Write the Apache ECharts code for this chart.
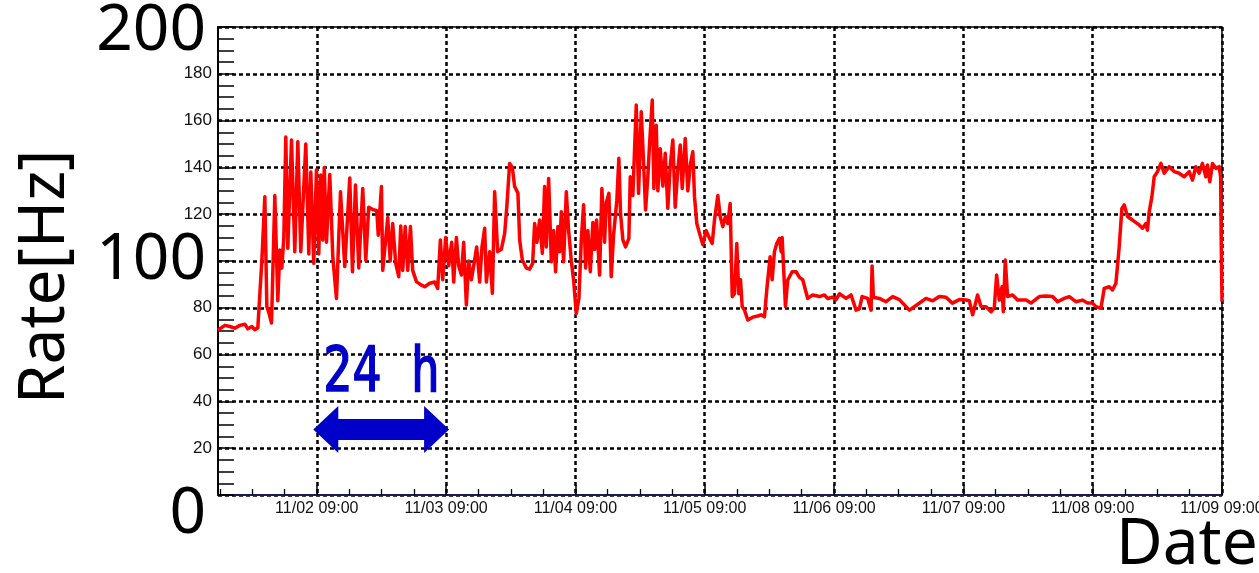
<!DOCTYPE html>
<html><head><meta charset="utf-8">
<script src="https://cdn.jsdelivr.net/npm/echarts@6/dist/echarts.min.js"></script>
<style>html,body{margin:0;padding:0;background:#fff}#c{width:1259px;height:573px}</style>
</head><body><div id="c"></div>
<script>
// Time of each sample, in hours since 11/01 00:00
const hours = [
14.67,15.01,15.94,16.87,17.79,18.72,19.65,20.20,20.95,21.50,22.06,22.43,22.80,23.36,23.73,24.10,24.60,25.21,25.77,26.14,
26.51,26.88,27.25,27.62,28.31,28.92,29.48,30.03,30.96,31.52,31.89,32.44,32.94,33.37,33.74,34.11,34.39,34.80,35.41,35.97,
36.65,37.40,38.19,39.12,39.62,40.18,40.79,41.53,42.09,42.64,43.39,44.13,44.41,45.00,45.24,46.17,46.63,47.09,47.65,48.21,
48.58,48.95,49.41,49.88,50.38,50.80,51.49,52.42,53.03,53.96,54.88,55.44,55.94,56.37,56.92,57.48,58.04,58.41,58.91,59.34,
59.84,60.26,60.76,61.19,61.69,62.12,62.67,63.23,63.66,64.16,64.47,65.08,65.59,66.01,66.57,67.25,67.87,68.29,68.79,69.29,
69.72,70.33,70.65,71.15,71.89,72.50,73.06,73.43,73.86,74.36,74.86,75.28,75.60,76.03,76.53,76.95,77.32,77.75,78.07,78.38,
78.81,79.31,79.74,80.24,80.66,81.16,81.65,82.09,82.52,82.89,83.31,83.76,84.24,84.56,84.93,85.49,85.91,86.41,86.73,87.21,
87.65,88.08,88.69,89.06,89.38,89.81,90.31,90.92,91.18,91.66,92.29,92.72,93.22,93.65,94.02,94.44,94.76,95.26,95.56,96.00,
96.30,96.74,97.23,97.67,98.15,98.60,99.08,99.52,100.01,100.45,100.82,101.38,101.86,102.31,102.79,103.10,103.53,104.03,104.64,105.27,
105.83,106.39,106.81,107.43,107.87,108.35,108.85,109.28,109.72,110.10,110.52,110.95,111.32,111.64,111.95,112.38,112.99,113.92,114.84,115.47,
116.09,116.51,117.14,117.51,117.94,118.37,118.87,119.18,119.37,119.98,120.41,121.22,121.96,122.58,123.19,123.69,124.12,125.04,126.29,127.21,
127.83,128.70,129.38,130.00,131.24,132.16,133.09,133.70,134.20,135.24,135.87,136.06,136.30,137.41,138.65,139.88,141.12,142.37,142.98,144.22,
146.07,147.30,148.54,149.78,150.95,152.25,153.49,154.11,154.72,155.64,156.28,157.20,158.13,158.74,159.17,159.67,160.17,160.41,160.78,161.21,
162.14,163.06,164.62,165.55,167.09,168.33,169.56,170.48,171.72,172.65,173.89,175.12,176.04,176.97,177.60,178.53,179.14,180.07,180.68,181.31,
181.92,182.42,182.85,183.46,184.39,185.63,186.25,186.87,187.17,187.49,187.99,188.42,189.03,189.66,190.27,191.20,192.12,193.05,193.98,194.91,
195.52,196.15,196.76,197.37,198.00,198.30,198.74,199.23,199.86,200.47,200.75,200.84,201.00
];
// Rate [Hz]
const rate = [
70.5,69.8,72.5,72,71.3,72.5,73,71,72,70.6,71.5,72,100,127.5,80.5,78,73.5,128,83,104.7,
97,110,153,105.5,151.7,104,151,104,150,103,138,99,139,103,136.7,109,140,108,137,101.8,
84,129.6,97.6,135.5,95.4,132.5,97,131,100.4,123,122,121.5,111,131.8,96,118.6,100,116,99,93.3,
115,96,114.7,96,114.7,96,91.2,89.7,89,90.5,91,88.3,109,92,110,98,108,91,110,98,
94,108,81.2,100,92,98,106,91,106,114,91,104,86.2,129.6,104,105,111.8,124,141.7,140,
131.8,129,109,100.4,97,96.5,99,116,108,117.5,103.3,131.8,106,135.3,99.7,113,95.4,114.7,104,121,
99.7,129.6,113,100,91.9,77.6,84,109,124,97,113,95.4,116.5,105,117.5,94,131,108,125,128.9,
93.3,111,126,143.9,120,109,106,109.7,136,128,166.7,128.9,163.8,142,121.8,136,150,168.8,131,158,
130,148,132,146,122.5,141,151.7,123,139,149.6,131,152.4,130,141,146.7,127.5,116,111.8,107,113,
110,107.5,117.5,128,119,114.7,119,116,124.6,84.8,86,107.5,86,92,80.5,79,74.8,76,76.5,77,
76.2,87.6,101.8,92,104,107.5,109.7,104,110,80.5,91.9,95.4,95.4,93,92,87.6,84,85.5,84.8,85.5,
84,84.5,83.5,86,84,85.5,79,79.5,84.8,84,79,97.9,84.5,84,82.6,84.8,83.5,80.5,79,81,
84,83,84.8,84.5,82,83.5,83.3,83,77,85.5,80.5,80.5,78.3,80,94,83.3,89,78.3,100.4,84.8,
85.5,83.3,83.3,82,84.8,85,84.8,82.6,84,84.8,82.6,83.3,82,82,80.5,79.8,88.3,89,87.6,90.5,
106,122.5,124,119,117.5,115.4,114,116,113.2,121,127.5,136,138.2,141.7,137.5,140.3,138.2,137.5,136,138.2,
134.6,140.3,137.5,141.7,136,141,133.9,141.7,139.6,140.3,136,110,82.6
];
// Major x ticks (hours since 11/01 00:00) and their labels
const xTickHours = [33, 57, 81, 105, 129, 153, 177, 201];
const xTickLabels = ['11/02 09:00','11/03 09:00','11/04 09:00','11/05 09:00','11/06 09:00','11/07 09:00','11/08 09:00','11/09 09:00'];
const bigYLabels = [0, 100, 200];
const annotationText = '24 h';

const X_MIN = 14 + 40/60, X_MAX = 201;
const minorHours = [];
for (let h = 15; h <= X_MAX; h += 6) minorHours.push(h);

const chart = echarts.init(document.getElementById('c'), null, {renderer: 'canvas'});
const gridStyle = {color: '#000', width: 2.5, type: [4, 3]};
const bigFont = {fontFamily: 'Noto Sans', fontSize: 64, color: '#000'};

chart.setOption({
  animation: false,
  grid: {left: 218, right: 37, top: 27, bottom: 78, show: true, borderColor: '#000', borderWidth: 1.5,
    containLabel: false, outerBoundsMode: 'none'},
  xAxis: [{
    type: 'value', min: X_MIN, max: X_MAX,
    axisLine: {show: true, onZero: false, lineStyle: {color: '#1c1c55', width: 2}},
    axisTick: {show: true, inside: true, length: 10, customValues: xTickHours, lineStyle: {color: '#000', width: 1.5}},
    axisLabel: {customValues: xTickHours, formatter: v => { const i = xTickHours.indexOf(v); return i >= 0 ? xTickLabels[i] : ''; },
      fontFamily: 'Liberation Sans', fontSize: 16, color: '#111', margin: 6},
    splitLine: {show: true, lineStyle: gridStyle}
  }, {
    type: 'value', min: X_MIN, max: X_MAX, position: 'bottom',
    axisLine: {show: false}, axisLabel: {show: false}, splitLine: {show: false},
    axisTick: {show: true, inside: true, length: 6, customValues: minorHours, lineStyle: {color: '#000', width: 1.3}}
  }],
  yAxis: {
    type: 'value', min: 0, max: 200, interval: 20,
    axisLine: {show: true, lineStyle: {color: '#000', width: 2}},
    axisTick: {show: true, inside: true, length: 16, lineStyle: {color: '#000', width: 1.5}},
    minorTick: {show: true, splitNumber: 4, length: 16, lineStyle: {color: '#000', width: 1.5}},
    splitLine: {show: true, lineStyle: gridStyle},
    axisLabel: {
      margin: 6,
      formatter: v => bigYLabels.includes(v) ? `{b${v}|${v}}` : `{s|${v}}`,
      rich: {
        s: {fontFamily: 'Liberation Sans', fontSize: 17, color: '#111'},
        b0: Object.assign({padding: [40, 6, 0, 0]}, bigFont),
        b100: Object.assign({padding: [0, 6, 0, 0]}, bigFont),
        b200: Object.assign({padding: [10, 6, 0, 0]}, bigFont)
      }
    }
  },
  series: [{
    type: 'line', xAxisIndex: 0, yAxisIndex: 0,
    data: hours.map((h, i) => [h, rate[i]]),
    showSymbol: false, symbol: 'none',
    lineStyle: {color: '#ff0000', width: 3.5, join: 'round'}, itemStyle: {color: '#ff0000'}, z: 3
  }]
});

// annotation: 24 h double arrow between 11/02 09:00 and 11/03 09:00
const pA = chart.convertToPixel({gridIndex: 0}, [33, 28]);
const pB = chart.convertToPixel({gridIndex: 0}, [57, 28]);
const pT = chart.convertToPixel({gridIndex: 0}, [45, 51.3]);
const L = pA[0] - 3.5, R = pB[0] + 3, yc = pA[1];
const hl = 25, hh = 23.5, sh = 10.5;
chart.setOption({
  graphic: [
    {type: 'polygon', shape: {points: [[L, yc], [L + hl, yc - hh], [L + hl, yc - sh], [R - hl, yc - sh], [R - hl, yc - hh], [R, yc],
      [R - hl, yc + hh], [R - hl, yc + sh], [L + hl, yc + sh], [L + hl, yc + hh]]}, style: {fill: '#0000c8'}, z: 10},
    {type: 'text', x: pT[0], y: pT[1], scaleX: 0.77, style: {text: annotationText, font: '63px "DejaVu Sans Mono"', fill: '#0000c8', stroke: '#0000c8', lineWidth: 1.5, align: 'center', verticalAlign: 'middle'}, z: 10},
    {type: 'text', x: 46, y: 277, rotation: Math.PI / 2, style: {text: 'Rate[Hz]', font: '64px "Noto Sans"', fill: '#000', align: 'center', verticalAlign: 'middle'}, z: 10},
    {type: 'text', x: 1116, y: 546, style: {text: 'Date', font: '64px "Noto Sans"', fill: '#000', align: 'left', verticalAlign: 'middle'}, z: 10}
  ]
});
</script></body></html>
